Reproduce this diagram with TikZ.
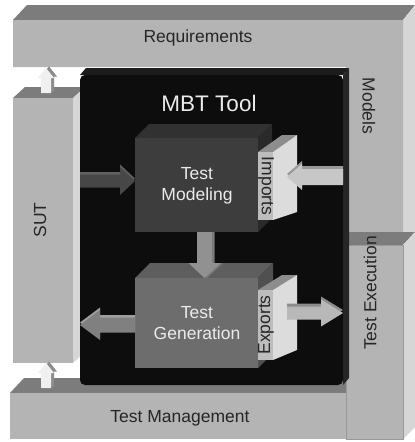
\documentclass[tikz,border=0pt]{standalone}
\usepackage{fontspec}
\setmainfont{Liberation Sans}
\usetikzlibrary{calc}
\definecolor{barfront}{HTML}{B4B4B4}
\definecolor{bartop}{HTML}{7C7C7C}
\definecolor{barside}{HTML}{D6D6D6}
\definecolor{blkfront}{HTML}{0D0D0D}
\definecolor{blktop}{HTML}{1C1C1C}
\definecolor{blkside}{HTML}{262626}
\definecolor{tmfront}{HTML}{3D3D3D}
\definecolor{tmtop}{HTML}{313131}
\definecolor{tgfront}{HTML}{6D6D6D}
\definecolor{tgtop}{HTML}{5E5E5E}
\definecolor{ifront}{HTML}{BDBDBD}
\definecolor{itop}{HTML}{8D8D8D}
\definecolor{iside}{HTML}{DCDCDC}
% #1 from, #2 to, #3 shaft half width, #4 head half width, #5 head length, #6 fill, #7 depth fill, #8 depth shift
\newcommand\blockarrow[8]{%
  \coordinate (ba) at (#1); \coordinate (bt) at (#2);
  \coordinate (bh) at ($(bt)!#5!(ba)$);
  \fill[#7, transform canvas={shift={#8}}] ($(ba)!#3!90:(bt)$) -- ($(bh)!#3!90:(bt)$) -- ($(bh)!#4!90:(bt)$) -- (bt) -- ($(bh)!#4!-90:(bt)$) -- ($(bh)!#3!-90:(bt)$) -- ($(ba)!#3!-90:(bt)$) -- cycle;
  \fill[#6] ($(ba)!#3!90:(bt)$) -- ($(bh)!#3!90:(bt)$) -- ($(bh)!#4!90:(bt)$) -- (bt) -- ($(bh)!#4!-90:(bt)$) -- ($(bh)!#3!-90:(bt)$) -- ($(ba)!#3!-90:(bt)$) -- cycle;}
\begin{document}
\begin{tikzpicture}[x=1pt,y=-1pt,
  lbl/.style={font=\fontsize{17.5}{21}\selectfont, inner sep=0pt, text=black!85},
  wlbl/.style={font=\fontsize{17.5}{21}\selectfont, inner sep=0pt, text=white!92!black, align=center},
  frontface/.style={inner sep=0pt, outer sep=0pt, anchor=north west}]
\useasboundingbox[fill=white] (0,0) rectangle (415,442);

% Requirements + Models (one L-shaped bar)
\fill[bartop] (13,20) -- (27,5) -- (415,5) -- (403,20) -- cycle;
\fill[barside] (403,20) -- (415,5) -- (415,232) -- (403,232) -- cycle;
\fill[barfront] (13,20) -- (403,20) -- (403,232) -- (346,232) -- (346,67) -- (13,67) -- cycle;
\node[lbl] (req) at (198,38) {Requirements};
\node[lbl, rotate=-90] (models) at (369,106) {Models};

% Test Management
\fill[bartop] (10,393) -- (24,378) -- (346,378) -- (346,393) -- cycle;
\node[frontface, fill=barfront, minimum width=336pt, minimum height=46pt] (tmgmtface) at (10,393) {};
\node[lbl] (tmgmt) at (180,418) {Test Management};

% Test Execution
\fill[bartop] (346,232) -- (415,232) -- (403,245) -- (346,245) -- cycle;
\fill[barside] (403,245) -- (415,232) -- (415,427) -- (403,439) -- cycle;
\node[frontface, fill=barfront, draw=black!40, line width=0.4pt, minimum width=57pt, minimum height=194pt] (texecface) at (346,245) {};
\node[lbl, rotate=90] (texec) at (370,293) {Test Execution};

% SUT
\fill[bartop] (13,98) -- (25,87) -- (85,87) -- (73,98) -- cycle;
\fill[barside] (73,98) -- (85,87) -- (85,352) -- (73,363) -- cycle;
\node[frontface, fill=barfront, minimum width=60pt, minimum height=265pt] (sut) at (13,98) {};
\node[lbl, rotate=90] (sutlabel) at (40,220) {SUT};

% MBT Tool black box
\fill[blktop] (80,75) -- (86,68) -- (349,68) -- (343,75) -- cycle;
\fill[blkside] (343,75) -- (349,68) -- (349,378) -- (343,385) -- cycle;
\fill[blkfront, rounded corners=5pt] (80,75) -- (80,385) -- (343,385) -- (343,75) -- cycle;
\coordinate (mbtw) at (80,230);
\coordinate (mbte) at (343,230);
\node[wlbl, font=\fontsize{22.5}{26}\selectfont] (mbt) at (209,103) {MBT Tool};

% Test Modeling
\fill[tmtop] (135,138) -- (149,124) -- (272,124) -- (258,138) -- cycle;
\fill[tmtop!85!black] (258,138) -- (272,124) -- (272,218) -- (258,232) -- cycle;
\node[frontface, fill=tmfront, minimum width=123pt, minimum height=94pt] (tmod) at (135,138) {};
\node[wlbl] (tmodlabel) at (197,186) {Test\\Modeling};
% Imports
\fill[itop] (258,152) -- (282,135) -- (297,135) -- (273,152) -- cycle;
\fill[iside] (273,152) -- (297,135) -- (297,212) -- (273,220) -- cycle;
\node[frontface, fill=ifront, minimum width=15pt, minimum height=68pt] (impface) at (258,152) {};
\node[lbl, rotate=-90] (imp) at (266,186) {Imports};

% Test Generation
\fill[tgtop] (135,278) -- (150,263) -- (273,263) -- (258,278) -- cycle;
\fill[tgtop!85!black] (258,278) -- (273,263) -- (273,353) -- (258,368) -- cycle;
\node[frontface, fill=tgfront, minimum width=123pt, minimum height=90pt] (tgen) at (135,278) {};
\node[wlbl] (tgenlabel) at (197,323) {Test\\Generation};
% Exports
\fill[itop] (258,290) -- (282,275) -- (297,275) -- (273,290) -- cycle;
\fill[iside] (273,290) -- (297,275) -- (297,350) -- (273,360) -- cycle;
\node[frontface, fill=ifront, minimum width=15pt, minimum height=70pt] (expface) at (258,290) {};
\node[lbl, rotate=90] (exp) at (266,325) {Exports};

% connectors (block arrows)
\coordinate (a1t) at ([yshift=4pt]tmod.west);
\coordinate (a1s) at (mbtw |- a1t);
\blockarrow{a1s}{a1t}{6.5pt}{14pt}{15pt}{black!72}{black!62}{(0pt,2.5pt)}

\coordinate (a2s) at (mbte |- 0,177);
\coordinate (a2t) at (287,177);
\blockarrow{a2s}{a2t}{8pt}{13pt}{15pt}{black!22}{black!40}{(0pt,3pt)}

\coordinate (a3s) at ([xshift=8pt]tmod.south);
\coordinate (a3t) at ([xshift=8pt]tgen.north);
\blockarrow{a3s}{a3t}{7.5pt}{16pt}{15pt}{black!43}{black!52}{(2.5pt,0pt)}

\coordinate (a4s) at ([yshift=-2pt]tgen.west);
\coordinate (a4t) at (mbtw |- a4s);
\blockarrow{a4s}{a4t}{7.5pt}{15pt}{20pt}{black!50}{black!38}{(0pt,2.5pt)}

\coordinate (a5s) at (287,313);
\coordinate (a5t) at (mbte |- a5s);
\blockarrow{a5s}{a5t}{6.5pt}{13.5pt}{22pt}{black!28}{black!45}{(0pt,3pt)}

\coordinate (a6s) at (46,93);
\coordinate (a6t) at (46,68);
\blockarrow{a6s}{a6t}{5pt}{8pt}{10pt}{black!6}{black!45}{(3pt,1.5pt)}

\coordinate (a7s) at (46,388);
\coordinate (a7t) at (sut.south -| a7s);
\blockarrow{a7s}{a7t}{5pt}{8pt}{10pt}{black!6}{black!45}{(3pt,1.5pt)}
\end{tikzpicture}
\end{document}
